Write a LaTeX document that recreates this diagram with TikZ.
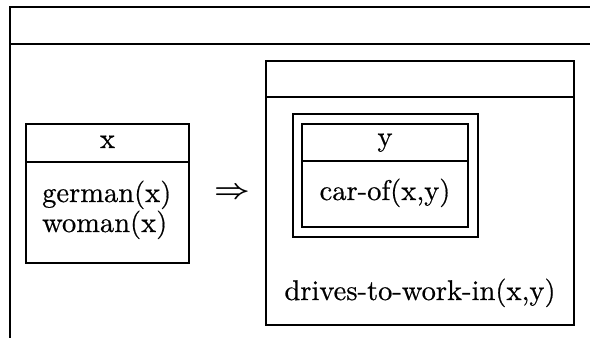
\documentclass[tikz,border=0pt]{standalone}
\usepackage{amsmath,amssymb,graphicx}
\usepackage{fontspec}
\setmainfont{lmroman10-regular.otf}[FakeBold=0.5]
\begin{document}
\begin{tikzpicture}[x=1pt,y=-1pt,
  rule/.style={line width=1.3pt},
  thinbox/.style={draw,rule,rectangle,inner sep=0pt},
  thickbox/.style={draw,line width=2.6pt,rectangle,inner sep=0pt},
  lbl/.style={inner sep=0pt,font=\fontsize{28.5}{30}\selectfont}]
\useasboundingbox (0,0) rectangle (590,338);
% outer box (open to the right and bottom)
\coordinate (otl) at (10,7);
\coordinate (otr) at (590,7);
\coordinate (ohl) at (10,44);
\coordinate (ohr) at (590,44);
\coordinate (obl) at (10,338);
\draw[rule] (otr) -- (otl) -- (obl);
\draw[rule] (ohl) -- (ohr);
% left box
\node[thinbox,minimum width=163pt,minimum height=139pt] (L) at (107.5,193.5) {};
\draw[rule] ([yshift=-38.5pt]L.north west) -- ([yshift=-38.5pt]L.north east);
\node[lbl,anchor=base] (Lx) at (107.5,148) {x};
\node[lbl,anchor=base west] (Lg) at (42,202) {german(x)};
\node[lbl,anchor=base west] (Lw) at (42,232) {woman(x)};
% implication
\node[inner sep=0pt,font=\fontsize{24.88}{26}\selectfont] (imp) at (232,193) {\scalebox{1.25}[1.1]{$\boldsymbol{\Rightarrow}$}};
% right box
\node[thinbox,minimum width=308pt,minimum height=264pt] (R) at (420,193) {};
\draw[rule] ([yshift=-36.5pt]R.north west) -- ([yshift=-36.5pt]R.north east);
% double box
\node[thickbox,minimum width=185pt,minimum height=123pt] (D) at (385.5,175.5) {};
\node[thinbox,minimum width=166pt,minimum height=103pt] (I) at (385,175.5) {};
\draw[rule] ([yshift=-37.5pt]I.north west) -- ([yshift=-37.5pt]I.north east);
\node[lbl,anchor=base] (Iy) at (385,146) {y};
\node[lbl,anchor=base] (Ic) at (385,200) {car-of(x,y)};
\node[lbl,anchor=base] (Rd) at (420,300) {drives-to-work-in(x,y)};
\end{tikzpicture}
\end{document}
